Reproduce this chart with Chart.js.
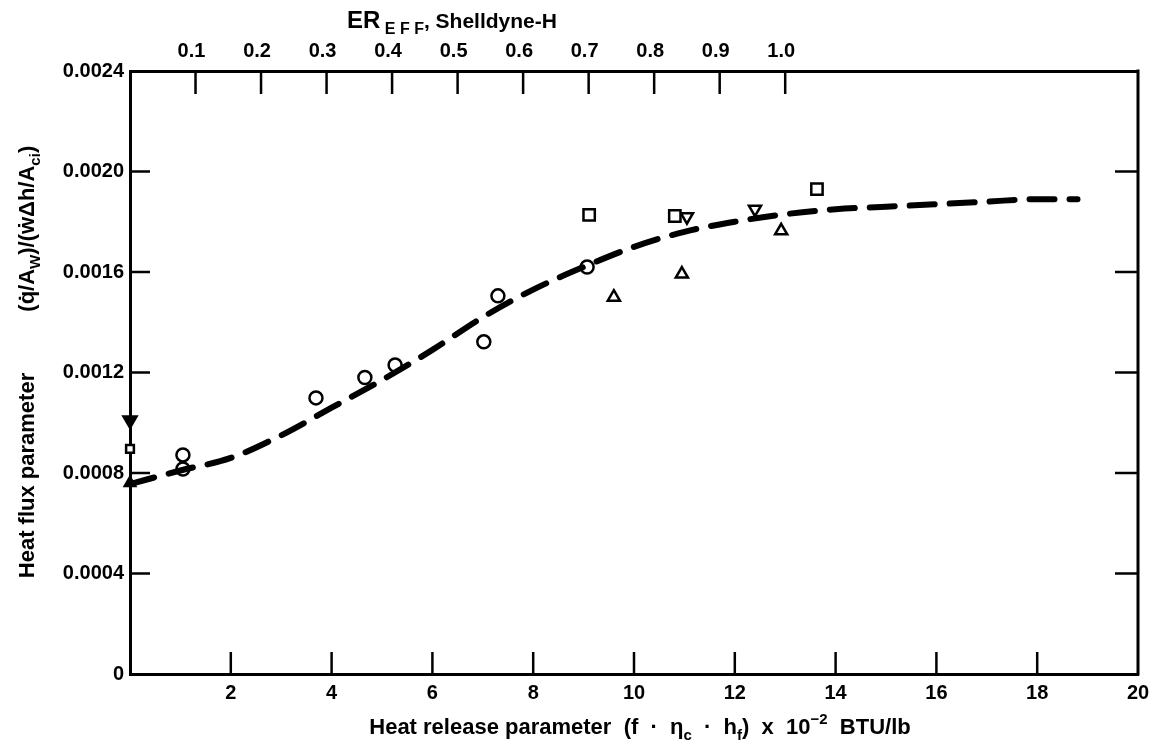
<!DOCTYPE html>
<html>
<head>
<meta charset="utf-8">
<script src="https://cdn.jsdelivr.net/npm/chart.js@4.4.1/dist/chart.umd.min.js"></script>
<style>
  html, body { margin: 0; padding: 0; background: #fff; }
</style>
</head>
<body>
<canvas id="heatChart" width="1160" height="750"></canvas>
<script>
    // Axes
    const xTicks = [2, 4, 6, 8, 10, 12, 14, 16, 18, 20];
    const yTicks = [0, 0.0004, 0.0008, 0.0012, 0.0016, 0.0020, 0.0024];
    const erTicks = [0.1, 0.2, 0.3, 0.4, 0.5, 0.6, 0.7, 0.8, 0.9, 1.0];
    const xAtEr1 = 13;   // ER_EFF = 1.0 falls at heat release 13

    // Faired curve (dashed)
    const fitX = [0, 1, 2, 3, 4, 5, 6, 7, 8, 9, 10, 11, 12, 13, 14, 15, 16, 17, 18, 18.8];
    const fitY = [0.000756, 0.00081, 0.00086, 0.00095, 0.00106, 0.00117, 0.00129, 0.00142, 0.00153, 0.00162,
                  0.00170, 0.00176, 0.00180, 0.00183, 0.00185, 0.00186, 0.00187, 0.00188, 0.00189, 0.00189];

    // Test points, one pair of arrays per symbol
    const circleX = [1.05, 1.05, 3.69, 4.66, 5.26, 7.02, 7.30, 9.07];
    const circleY = [0.000872, 0.000816, 0.001099, 0.00118, 0.00123, 0.001322, 0.001505, 0.00162];
    const squareX = [9.11, 10.81, 13.63];
    const squareY = [0.001827, 0.001823, 0.00193];
    const smallSquareX = [0];
    const smallSquareY = [0.000896];
    const triUpX = [9.6, 10.95, 12.92];
    const triUpY = [0.0015, 0.001592, 0.001764];
    const triDownX = [11.05, 12.4];
    const triDownY = [0.00182, 0.00185];
    const solidDownX = [0];
    const solidDownY = [0.00101];
    const solidUpX = [0];
    const solidUpY = [0.00076];

    const FONT = '"Liberation Sans", Arial, sans-serif';

    const pts = (xs, ys) => xs.map((x, i) => ({ x, y: ys[i] }));

    function marker(xs, ys, style, r, filled, rot) {
        return {
            type: 'scatter',
            data: pts(xs, ys),
            pointStyle: style,
            pointRadius: r,
            pointRotation: rot || 0,
            pointBorderWidth: 2.5,
            pointBorderColor: '#000',
            pointBackgroundColor: filled ? '#000' : '#fff',
            clip: false
        };
    }

    // text made of runs: [text, size, dy]
    function drawRuns(ctx, runs, cx, cy, angle) {
        const f = s => `bold ${s}px ${FONT}`;
        let total = 0;
        runs.forEach(([t, s]) => {
            ctx.font = f(s);
            total += ctx.measureText(t).width;
        });
        ctx.save();
        ctx.translate(cx, cy);
        ctx.rotate(angle || 0);
        ctx.textBaseline = 'alphabetic';
        ctx.textAlign = 'left';
        ctx.fillStyle = '#000';
        let x = -total / 2;
        runs.forEach(([t, s, dy]) => {
            ctx.font = f(s);
            ctx.fillText(t, x, 8 + (dy || 0));
            x += ctx.measureText(t).width;
        });
        ctx.restore();
    }

    const frame = {
        id: 'frame',
        afterDraw(chart) {
            const { ctx, chartArea: a, scales } = chart;
            ctx.save();
            ctx.strokeStyle = '#000';
            const line = (x1, y1, x2, y2) => { ctx.beginPath(); ctx.moveTo(x1, y1); ctx.lineTo(x2, y2); ctx.stroke(); };

            // right border
            ctx.lineWidth = 3;
            line(a.right, a.top - 1.5, a.right, a.bottom + 1.5);
            ctx.lineWidth = 2.5;

            // inward tick marks
            yTicks.forEach(v => {
                if (v === 0 || v === 0.0024) return;
                const py = scales.y.getPixelForValue(v);
                line(a.left, py, a.left + 20, py);
                line(a.right - 23, py, a.right, py);
            });
            xTicks.forEach(v => {
                if (v === 20) return;
                const px = scales.x.getPixelForValue(v);
                line(px, a.bottom, px, a.bottom - 22);
            });
            erTicks.forEach(v => {
                const px = scales.x2.getPixelForValue(v);
                line(px, a.top, px, a.top + 23);
            });
            ctx.restore();

            // axis titles
            drawRuns(ctx, [['Heat release parameter  (f  ·  ', 22], ['η', 22], ['c', 15, 6], ['  ·  h', 22], ['f', 15, 6],
                           [')  x  10', 22], ['−2', 15, -10], ['  BTU/lb', 22]],
                     640, 726);
            drawRuns(ctx, [['Heat flux parameter          (q\u0307/A', 22], ['W', 15, 6], [')/(\u1E87\u0394h/A', 22], ['ci', 15, 6], [')', 22]],
                     26, 362, -Math.PI / 2);
            drawRuns(ctx, [['ER', 24], [' E F F', 16, 6], [', Shelldyne-H', 21]], 452, 20);
        }
    };

    const tickFont = { family: FONT, size: 20, weight: 'bold' };

    new Chart(document.getElementById('heatChart'), {
        type: 'scatter',
        data: {
            datasets: [
                {
                    type: 'line',
                    data: pts(fitX, fitY),
                    borderColor: '#000',
                    borderWidth: 6,
                    borderDash: [25, 15],
                    borderCapStyle: 'round',
                    cubicInterpolationMode: 'monotone',
                    pointRadius: 0,
                    fill: false
                },
                marker(circleX, circleY, 'circle', 6.5, false),
                marker(squareX, squareY, 'rect', 8, false),
                marker(smallSquareX, smallSquareY, 'rect', 5.5, false),
                marker(triUpX, triUpY, 'triangle', 7, false),
                marker(triDownX, triDownY, 'triangle', 7, false, 180),
                marker(solidDownX, solidDownY, 'triangle', 7.5, true, 180),
                marker(solidUpX, solidUpY, 'triangle', 6, true)
            ]
        },
        options: {
            responsive: false,
            animation: false,
            layout: { padding: { left: 0, right: 22, top: 0, bottom: 0 } },
            plugins: { legend: { display: false }, tooltip: { enabled: false } },
            scales: {
                x: {
                    type: 'linear', position: 'bottom', min: 0, max: 20,
                    afterBuildTicks: s => { s.ticks = xTicks.map(v => ({ value: v })); },
                    afterFit: s => { s.height = 76; },
                    grid: { drawOnChartArea: false, drawTicks: false },
                    border: { color: '#000', width: 3 },
                    ticks: { color: '#000', font: tickFont, padding: 7, maxRotation: 0, autoSkip: false }
                },
                x2: {
                    type: 'linear', position: 'top', axis: 'x', min: 0, max: 20 / xAtEr1,
                    afterBuildTicks: s => { s.ticks = erTicks.map(v => ({ value: v })); },
                    afterFit: s => { s.height = 71; },
                    grid: { drawOnChartArea: false, drawTicks: false },
                    border: { color: '#000', width: 3 },
                    ticks: { color: '#000', font: tickFont, padding: 8, maxRotation: 0, autoSkip: false,
                             labelOffset: -4, callback: v => v.toFixed(1) }
                },
                y: {
                    type: 'linear', position: 'left', min: 0, max: 0.0024,
                    afterBuildTicks: s => { s.ticks = yTicks.map(v => ({ value: v })); },
                    afterFit: s => { s.width = 130; },
                    grid: { drawOnChartArea: false, drawTicks: false },
                    border: { color: '#000', width: 3 },
                    ticks: { color: '#000', font: tickFont, padding: 6,
                             callback: v => v === 0 ? '0' : v.toFixed(4) }
                }
            }
        },
        plugins: [frame]
    });
</script>
</body>
</html>
